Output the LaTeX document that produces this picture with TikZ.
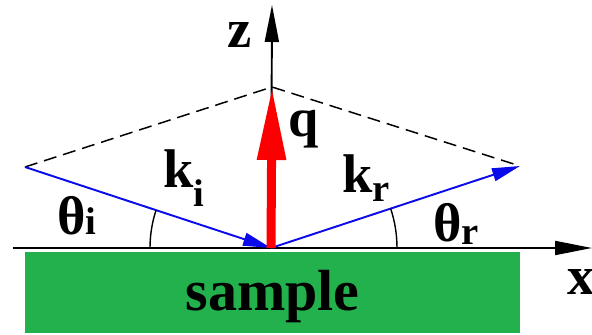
\documentclass[tikz,border=0pt]{standalone}
\usepackage{fontspec}
\newfontfamily\figfont{LiberationSerif-Bold.ttf}
\usetikzlibrary{arrows.meta}
\usepackage{xcolor}
\definecolor{sample_green}{RGB}{34,177,76}
\definecolor{wave_blue}{RGB}{10,10,235}
\definecolor{q_red}{RGB}{250,0,0}
% vector name with a dropped subscript
\newcommand{\vlbl}[3]{#1\raisebox{-#3}{\fontsize{22}{22}\selectfont #2}}

\begin{document}
\begin{tikzpicture}[font=\figfont\fontsize{31}{31}\selectfont,
    lbl/.style={anchor=base west, inner sep=0pt},
    axis/.style={line width=1.1pt, -{Triangle[length=0.74cm,width=0.28cm]}},
    wave/.style={wave_blue, line width=1.1pt, -{Triangle[length=0.56cm,width=0.26cm]}},
    angarc/.style={line width=0.8pt}]

      \useasboundingbox (-5.42,-1.74) rectangle (6.42,4.96);

      % 1. Puntos del esquema
      \coordinate (O) at (0,0);
      \coordinate (L) at (-4.92,1.62);
      \coordinate (R) at (4.98,1.64);
      \coordinate (T) at (0.02,3.22);
      \coordinate (Xa) at (-5.16,0);
      \coordinate (Xb) at (6.42,0);
      \coordinate (Zb) at (0.02,4.86);

      % 2. Muestra
      \node[fill=sample_green, minimum width=9.9cm, minimum height=1.62cm,
        inner sep=0pt, text depth=0.22em, font=\figfont\fontsize{33}{33}\selectfont]
        (sample) at (0.03,-0.89) {sample};

      % 3. Ejes
      \draw[axis] (Xa) -- (Xb);
      \draw[axis] (O) -- (Zb);

      % 4. Rombo discontinuo
      \draw[line width=0.85pt, dash pattern=on 0.26cm off 0.14cm] (L) -- (T) -- (R);

      % 5. Vectores de onda y q
      \draw[wave] (L) -- (O);
      \draw[wave] (O) -- (R);
      \draw[q_red, line width=0.18cm, -{Triangle[length=1.46cm,width=0.54cm]}] (O) -- (T);

      % 6. Ángulos
      \draw[angarc] ([shift={(180:2.42)}]O) arc[start angle=180, end angle=161.8, radius=2.42];
      \draw[angarc] ([shift={(0:2.52)}]O) arc[start angle=0, end angle=18.2, radius=2.52];

      % 7. Etiquetas
      \node[lbl] (zlbl) at (-0.88,4.00) {z};
      \node[lbl] (xlbl) at (5.92,-0.94) {x};
      \node[lbl] (qlbl) at (0.34,2.22) {q};
      \node[lbl] (kilbl) at (-2.16,1.20) {\vlbl{k}{i}{0.38cm}};
      \node[lbl] (krlbl) at (1.42,1.10) {\vlbl{k}{r}{0.18cm}};
      \node[lbl] (tilbl) at (-4.28,0.26) {\vlbl{θ}{i}{0cm}};
      \node[lbl] (trlbl) at (3.24,0.12) {\vlbl{θ}{r}{0.06cm}};

    \end{tikzpicture}
\end{document}
